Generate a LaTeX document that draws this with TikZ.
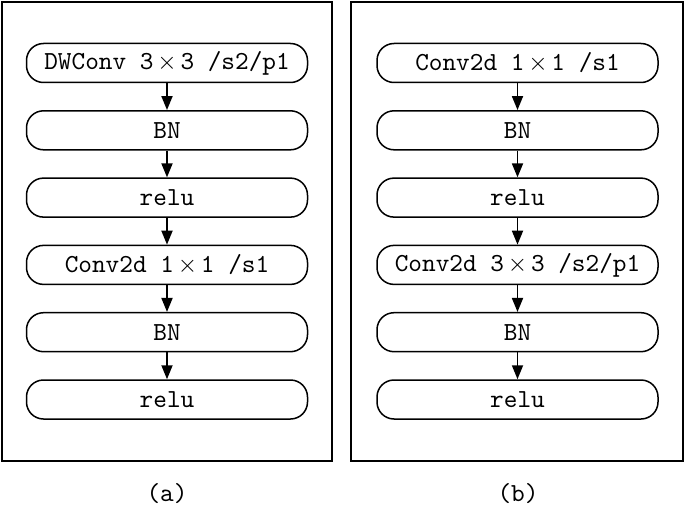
\documentclass[tikz,border=0pt]{standalone}
\usepackage{fontspec}
\usetikzlibrary{arrows.meta}
\newfontfamily\boxfont{lmmono10-regular.otf}
\newcommand{\bx}{\makebox[27pt]{$\times$}}

\begin{document}
\begin{tikzpicture}[x=1pt,y=-1pt,
    layer/.style={draw,line width=1.5pt,rounded corners=17pt,minimum width=281pt,
      minimum height=39pt,inner sep=0pt,font=\boxfont\fontsize{26}{30}\selectfont},
    flow/.style={line width=1.8pt,-{Triangle[length=14pt,width=11pt]}},
    panel/.style={draw,line width=1.6pt},
    caption/.style={font=\boxfont\fontsize{26}{30}\selectfont}]
  \useasboundingbox (0,0) rectangle (685,508);
  \def \d {67.3};

  % (a)
  \draw[panel] (2,2) rectangle (332,461);
  \foreach \t [count=\i] in {{DWConv 3\bx3 /s2/p1},BN,relu,{Conv2d 1\bx1 /s1},BN,relu}
    \node[layer] (a\i) at (167,{63+(\i-1)*\d}) {\t};
  \foreach \i [count=\j from 2] in {1,...,5}
    \draw[flow] (a\i) -- (a\j);
  \node[caption] (capa) at (167,494) {(a)};

  % (b)
  \draw[panel] (351,2) rectangle (683,461);
  \foreach \t [count=\i] in {{Conv2d 1\bx1 /s1},BN,relu,{Conv2d 3\bx3 /s2/p1},BN,relu}
    \node[layer] (b\i) at (517.5,{63+(\i-1)*\d}) {\t};
  \foreach \i [count=\j from 2] in {1,...,5}
    \draw[flow] (b\i) -- (b\j);
  \node[caption] (capb) at (518,494) {(b)};
\end{tikzpicture}
\end{document}
